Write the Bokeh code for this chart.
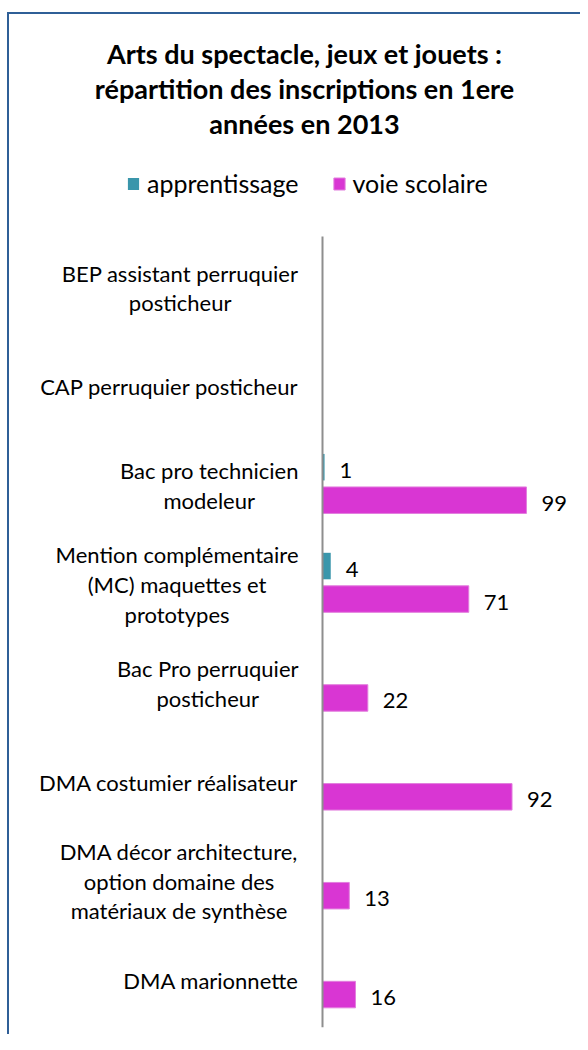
from bokeh.plotting import figure
from bokeh.models import (ColumnDataSource, Range1d, Legend, LegendItem, LabelSet, Title)
from bokeh.core.properties import value
from bokeh.transform import dodge
from bokeh.embed import file_html
from bokeh.resources import INLINE

# ---------------- data ----------------
categories = [
    "BEP assistant perruquier\nposticheur",
    "CAP perruquier posticheur",
    "Bac pro technicien\nmodeleur",
    "Mention complémentaire\n(MC) maquettes et\nprototypes",
    "Bac Pro perruquier\nposticheur",
    "DMA costumier réalisateur",
    "DMA décor architecture,\noption domaine des\nmatériaux de synthèse",
    "DMA marionnette",
]
apprentissage = [None, None, 1, 4, None, None, None, None]
voie_scolaire = [None, None, 99, 71, 22, 92, 13, 16]
series_names = ["apprentissage", "voie scolaire"]
title_lines = [
    "Arts du spectacle, jeux et jouets :",
    "répartition des inscriptions en 1ere",
    "années en 2013",
]

# ---------------- style / layout ----------------
TEAL = "#3A96AB"
MAGENTA = "#D936D3"
FONT = "Lato"
BORDER = "#2F5F97"

CANVAS_W, CANVAS_H = 573, 1022
TOP, BOTTOM, LEFT = 125, 9, 17           # borders around the plot area (px)
FRAME_W = CANVAS_W - LEFT
FRAME_H = CANVAS_H - TOP - BOTTOM
CAT_PX = 791                             # height occupied by the categories
AXIS_X = 296                             # axis position inside the plot area (px)
PX_PER_UNIT = 2.06

n = len(categories)
ypos = [n - 1 - i for i in range(n)]     # first category on top


def nan(v):
    return float("nan") if v is None else v


src = ColumnDataSource(dict(
    cat=categories, y=ypos,
    a=[nan(v) for v in apprentissage],
    v=[nan(v) for v in voie_scolaire],
))

p = figure(
    width=CANVAS_W, height=CANVAS_H,
    y_range=Range1d(-0.5, -0.5 + n * FRAME_H / CAT_PX),
    x_range=Range1d(-AXIS_X / PX_PER_UNIT, (FRAME_W - AXIS_X) / PX_PER_UNIT),
    output_backend="svg", toolbar_location=None,
    min_border_left=LEFT, min_border_right=0,
    min_border_top=TOP, min_border_bottom=BOTTOM,
)
p.styles = {"margin-top": "12px", "margin-left": "7px",
            "border-top": f"2px solid {BORDER}", "border-left": f"2px solid {BORDER}"}

OFF = 0.167
BH = 0.268
r1 = p.hbar(y=dodge("y", OFF), left=0, right="a", height=BH,
            source=src, fill_color=TEAL, line_color=None)
r2 = p.hbar(y=dodge("y", -OFF), left=0, right="v", height=BH,
            source=src, fill_color=MAGENTA, line_color="#E27EDD", line_width=1)

# vertical category axis line
p.segment(x0=[0], y0=[-0.5], x1=[0], y1=[n - 0.5], line_color="#8E8E8E", line_width=2)

# category labels: block right-anchored next to the axis, lines centred
p.text(x=0, y="y", text="cat", source=src, anchor="center_right",
       text_align="center", x_offset=-24, y_offset=2,
       text_font=value(FONT), text_font_size="22px", text_color="#000000",
       text_line_height=1.1)

for vals, off in ((apprentissage, OFF), (voie_scolaire, -OFF)):
    ys = [y for y, v in zip(ypos, vals) if v is not None]
    nums = [v for v in vals if v is not None]
    ls = ColumnDataSource(dict(y=ys, val=nums, txt=[str(v) for v in nums]))
    p.add_layout(LabelSet(x="val", y=dodge("y", off), text="txt",
                          source=ls, x_offset=15, y_offset=-3, text_baseline="middle",
                          text_align="left", text_font=value(FONT),
                          text_font_size="22px", text_color="#000000"))

legend = Legend(
    items=[LegendItem(label=series_names[0], renderers=[r1]),
           LegendItem(label=series_names[1], renderers=[r2])],
    orientation="horizontal", location=(100, FRAME_H - 59),
    label_text_font=FONT, label_text_font_size="25px", label_text_color="#000000",
    label_height=30, glyph_width=14, glyph_height=15, label_standoff=7, spacing=33,
    border_line_alpha=0, background_fill_alpha=0, padding=0, margin=0,
)
p.add_layout(legend, "center")

# title: one Title per line, added from the plot outward
for line in title_lines[::-1]:
    p.add_layout(Title(text=line, align="center", standoff=0,
                       text_font=FONT, text_font_size="27px", text_font_style="bold",
                       text_color="#000000"), "above")

p.xaxis.visible = False
p.yaxis.visible = False
p.grid.visible = False
p.outline_line_color = None

open("out.html", "w").write(file_html(p, INLINE))
